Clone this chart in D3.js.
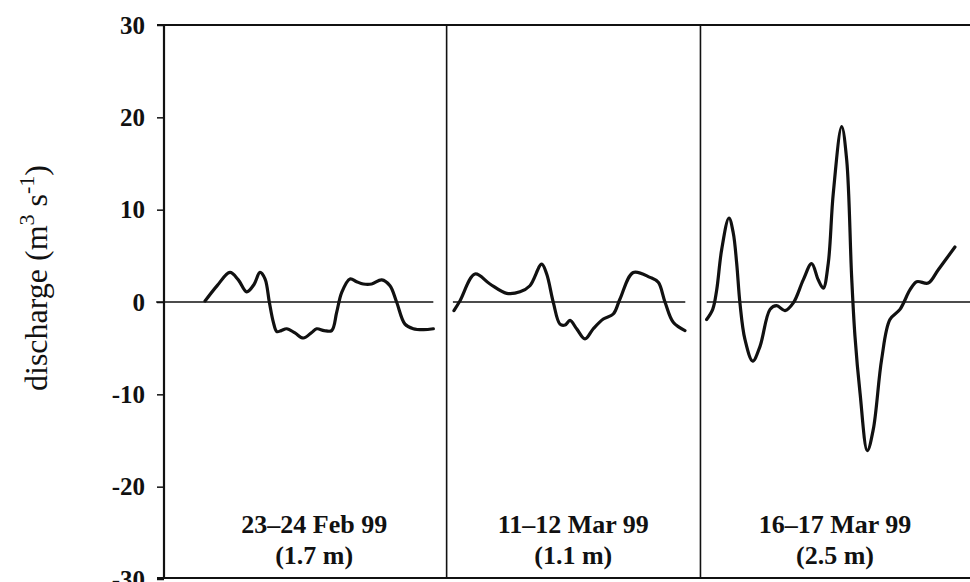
<!DOCTYPE html>
<html>
<head>
<meta charset="utf-8">
<script src="https://cdn.jsdelivr.net/npm/d3@7/dist/d3.min.js"></script>
<style>
  html, body { margin: 0; padding: 0; background: #fff; }
  svg { display: block; }
  text { font-family: "Liberation Serif", "Times New Roman", serif; fill: #111; }
</style>
</head>
<body>
<svg id="chart" width="970" height="582"></svg>
<script>
// Tidal discharge through the channel over three measurement periods.
// Time is in hours along one shared axis; each period occupies its own panel.

const yTicks = [30, 20, 10, 0, -10, -20, -30];
const panelBreaks = [0, 27, 51.25, 77];          // hours: panel edges
const periodLabels = ["23\u201324 Feb 99", "11\u201312 Mar 99", "16\u201317 Mar 99"];
const rangeLabels = ["(1.7 m)", "(1.1 m)", "(2.5 m)"];
const labelCentres = [14.35, 39.1, 64.1];          // hours
const zeroLineSpans = [[-0.75, 25.73], [27.6, 49.8], [51.85, 77]];

// 23–24 Feb 99
const febHours = [3.92, 5.1, 6.30, 7.1, 7.90, 8.6, 9.17, 9.65, 10.06, 10.45, 10.77, 11.2, 11.72,
  12.51, 13.31, 14.11, 14.59, 15.3, 16.02, 16.5, 16.98, 17.77, 18.4, 19.04, 19.84, 20.8,
  21.59, 22.22, 23.02, 23.81, 24.8, 25.73];
const febQ = [0.1, 1.8, 3.2, 2.4, 1.1, 1.9, 3.2, 2.5, 0.0, -2.2, -3.2, -3.1, -2.9,
  -3.35, -3.9, -3.3, -2.9, -3.1, -3.1, -1.1, 1.05, 2.5, 2.2, 1.95, 1.95, 2.4,
  1.76, 0.0, -2.4, -2.9, -3.0, -2.9];

// 11–12 Mar 99
const marAHours = [27.70, 28.28, 29.71, 31.14, 32.74, 34.01, 34.96, 36.08, 36.56, 37.19,
  37.83, 38.31, 38.79, 39.42, 40.22, 41.01, 41.97, 42.92, 43.56, 44.83, 46.43, 47.22,
  47.86, 48.65, 49.77];
const marAQ = [-0.94, 0.14, 3.03, 1.95, 0.94, 1.1, 1.76, 4.1, 3.03, -0.04,
  -2.4, -2.5, -2.0, -2.9, -4.0, -2.9, -1.84, -1.3, 0.32, 3.2, 2.67, 2.13,
  0.0, -2.2, -3.1];

// 16–17 Mar 99
const marBHours = [51.84, 52.42, 52.80, 53.28, 53.97, 54.38, 54.71, 55.02, 55.50, 56.24,
  56.94, 57.90, 58.53, 59.33, 60.12, 61.07, 61.87, 62.50, 62.98, 63.46, 63.94, 64.74,
  65.22, 65.69, 66.01, 66.49, 67.19, 67.76, 68.56, 69.35, 70.31, 71.26, 71.91, 73.01,
  73.97, 75.56];
const marBQ = [-1.9, -0.8, 1.3, 5.7, 9.1, 7.5, 4.2, -0.1, -4.06, -6.4,
  -4.8, -0.8, -0.4, -0.93, -0.1, 2.4, 4.15, 2.4, 1.5, 4.2, 11.8, 19.0,
  15.4, 2.8, -3.7, -9.8, -16.1, -13.8, -6.2, -1.9, -0.8, 1.3, 2.2, 2.05,
  3.5, 5.95];

const svg = d3.select("#chart");

const x = d3.scaleLinear().domain([0, 77]).range([164, 970]);
const y = d3.scaleLinear().domain([-30, 30]).range([579, 25]);

// frame: top rule, left axis, bottom rule, panel dividers
const frame = svg.append("g").attr("stroke", "#111").attr("fill", "none");
frame.append("line")
  .attr("x1", x(0) - 7).attr("x2", x(77)).attr("y1", y(30)).attr("y2", y(30))
  .attr("stroke-width", 2);
frame.append("line")
  .attr("x1", x(0) - 7).attr("x2", x(77)).attr("y1", y(-30) - 1).attr("y2", y(-30) - 1)
  .attr("stroke-width", 2);
frame.selectAll("line.divider")
  .data(panelBreaks.slice(0, 3))
  .join("line")
  .attr("class", "divider")
  .attr("x1", d => x(d)).attr("x2", d => x(d))
  .attr("y1", y(30)).attr("y2", y(-30))
  .attr("stroke-width", d => d === 0 ? 2.2 : 1.6);

// y axis ticks and labels
const yAxis = d3.axisLeft(y)
  .tickValues(yTicks)
  .tickSize(7)
  .tickPadding(12)
  .tickFormat(d => d === 0 ? "0" : (d < 0 ? "-" + Math.abs(d) : String(d)));
const yg = svg.append("g").attr("transform", `translate(${x(0)},0)`).call(yAxis);
yg.select(".domain").remove();
yg.selectAll(".tick line").attr("stroke", "#111").attr("stroke-width", 1.5);
yg.selectAll(".tick text")
  .attr("font-family", '"Liberation Serif", "Times New Roman", serif')
  .attr("font-size", 25)
  .attr("font-weight", "bold")
  .attr("fill", "#111");

// axis title
const title = svg.append("text")
  .attr("transform", `translate(47,${y(0) - 24}) rotate(-90)`)
  .attr("text-anchor", "middle")
  .attr("font-size", 32);
title.append("tspan").text("discharge (m");
title.append("tspan").attr("dy", -13).attr("font-size", 22).text("3");
title.append("tspan").attr("dy", 13).text(" s");
title.append("tspan").attr("dy", -13).attr("font-size", 22).text("-1");
title.append("tspan").attr("dy", 13).text(")");

// zero lines per panel
svg.append("g").selectAll("line")
  .data(zeroLineSpans)
  .join("line")
  .attr("x1", d => x(d[0])).attr("x2", d => x(d[1]))
  .attr("y1", y(0)).attr("y2", y(0))
  .attr("stroke", "#111").attr("stroke-width", 1.3);

// discharge curves
const series = [
  { hours: febHours, q: febQ },
  { hours: marAHours, q: marAQ },
  { hours: marBHours, q: marBQ }
];
const line = d3.line()
  .x(d => x(d[0]))
  .y(d => y(d[1]))
  .curve(d3.curveCatmullRom.alpha(0.5));
svg.append("g").selectAll("path")
  .data(series)
  .join("path")
  .attr("d", s => line(s.hours.map((h, i) => [h, s.q[i]])))
  .attr("fill", "none")
  .attr("stroke", "#111")
  .attr("stroke-width", 3.2)
  .attr("stroke-linejoin", "round")
  .attr("stroke-linecap", "round");

// period labels
const labels = svg.append("g")
  .attr("font-weight", "bold")
  .attr("font-size", 26)
  .attr("text-anchor", "middle");
labels.selectAll("text.period")
  .data(periodLabels)
  .join("text")
  .attr("class", "period")
  .attr("x", (d, i) => x(labelCentres[i]))
  .attr("y", 533)
  .text(d => d);
labels.selectAll("text.range")
  .data(rangeLabels)
  .join("text")
  .attr("class", "range")
  .attr("x", (d, i) => x(labelCentres[i]))
  .attr("y", 564)
  .text(d => d);
</script>
</body>
</html>
